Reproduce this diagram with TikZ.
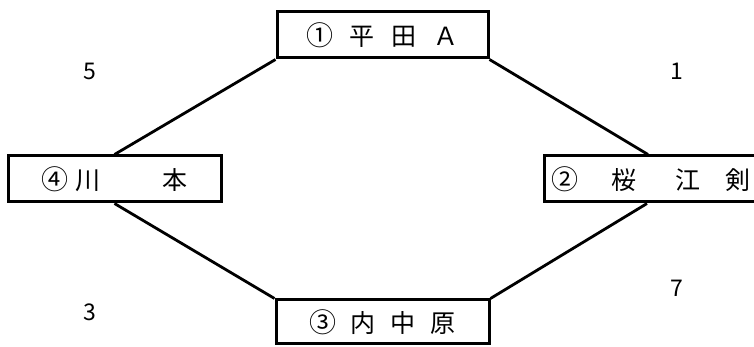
\documentclass[tikz,border=0pt]{standalone}
\usepackage{fontspec}
\newfontfamily\cjk{Noto Sans CJK JP}
\newcommand{\circd}[1]{{\fontsize{27pt}{27pt}\selectfont #1}}
\begin{document}
\begin{tikzpicture}[x=1pt,y=1pt,
  box/.style={draw=black,line width=3pt,inner sep=0pt,minimum height=46pt,
    font=\cjk\fontsize{25pt}{25pt}\selectfont},
  link/.style={draw=black,line width=2.8pt},
  num/.style={inner sep=0pt,font=\cjk\fontsize{23pt}{23pt}\selectfont}]
\useasboundingbox (0,0) rectangle (754,347);
\node[box,minimum width=211pt] (hirata) at (382.5,312)
  {\circd{①}\hspace{16pt}平\hspace{17pt}田\hspace{17pt}Ａ};
\node[box,minimum width=213pt] (kawamoto) at (114.5,168)
  {\circd{④}\hspace{7pt}川\hspace{62pt}本};
\node[box,minimum width=214pt] (sakurae) at (651,168)
  {\circd{②}\hspace{33pt}桜\hspace{39pt}江\hspace{25pt}剣\hspace{14pt}};
\node[box,minimum width=213pt,minimum height=44pt] (uchinaka) at (382.5,25)
  {\circd{③}\hspace{14pt}内\hspace{15pt}中\hspace{15pt}原};
\draw[link] (hirata.south west) -- (kawamoto.north);
\draw[link] (kawamoto.south) -- (uchinaka.north west);
\draw[link] (hirata.south east) -- ([xshift=-3pt]sakurae.north);
\draw[link] ([xshift=-4pt]sakurae.south) -- (uchinaka.north east);
\node[num] (n5) at (89.5,276) {5};
\node[num] (n1) at (677,276) {1};
\node[num] (n3) at (89.5,35) {3};
\node[num] (n7) at (677,59) {7};
\end{tikzpicture}
\end{document}
